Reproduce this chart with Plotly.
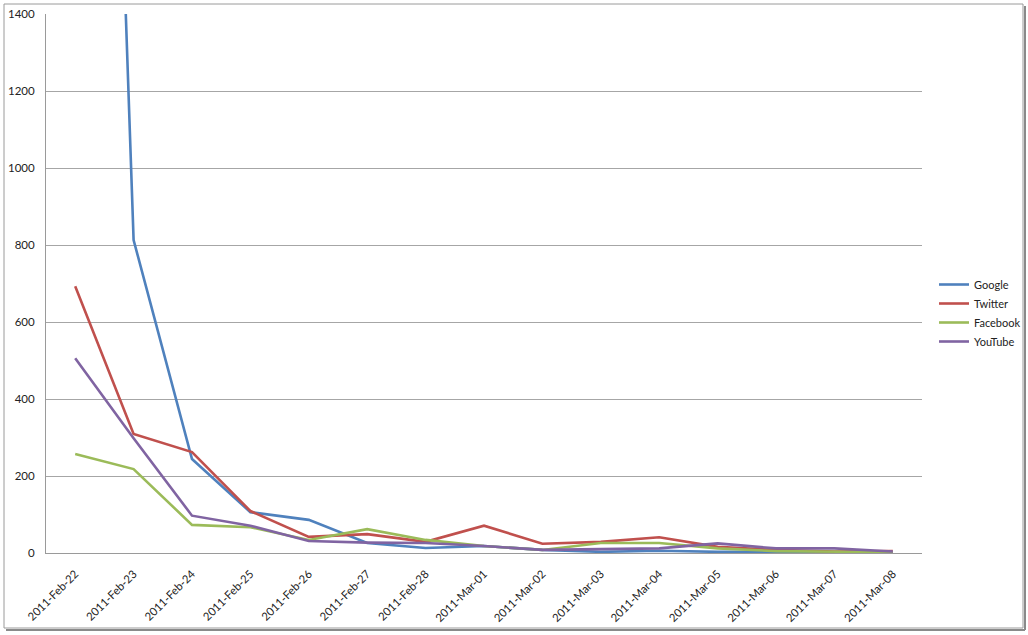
import plotly.graph_objects as go

dates = ["2011-Feb-22", "2011-Feb-23", "2011-Feb-24", "2011-Feb-25", "2011-Feb-26",
         "2011-Feb-27", "2011-Feb-28", "2011-Mar-01", "2011-Mar-02", "2011-Mar-03",
         "2011-Mar-04", "2011-Mar-05", "2011-Mar-06", "2011-Mar-07", "2011-Mar-08"]

google = [5200, 813, 244, 106, 86, 26, 13, 18, 8, 3, 6, 3, 3, 2, 2]
twitter = [693, 309, 262, 109, 42, 49, 29, 71, 24, 29, 41, 16, 8, 4, 5]
facebook = [257, 218, 73, 67, 34, 62, 34, 18, 8, 26, 26, 12, 5, 4, 2]
youtube = [506, 298, 97, 71, 31, 27, 26, 18, 8, 10, 12, 25, 12, 12, 4]

y_ticks = [0, 200, 400, 600, 800, 1000, 1200, 1400]

series = [("Google", google, "#4F81BD"),
          ("Twitter", twitter, "#C0504D"),
          ("Facebook", facebook, "#9BBB59"),
          ("YouTube", youtube, "#8064A2")]

fig = go.Figure()
for name, vals, col in series:
    fig.add_trace(go.Scatter(x=dates, y=vals, name=name, mode="lines",
                             line=dict(color=col, width=2.6)))

W, H = 1028, 635
L, R, T, B = 46, 922, 14, 553

def px(x):
    return (x - L) / (R - L)

def py(y):
    return (B - y) / (B - T)

fig.update_layout(
    width=W, height=H,
    margin=dict(l=L, r=W - R, t=T, b=H - B, autoexpand=False),
    paper_bgcolor="white", plot_bgcolor="white",
    font=dict(family="Lato, Open Sans, sans-serif", size=11, color="#222"),
    showlegend=True,
    legend=dict(x=px(934), y=py(270), xanchor="left", yanchor="top",
                font=dict(size=11, color="#222"), tracegroupgap=0,
                bgcolor="rgba(0,0,0,0)", itemwidth=30),
    xaxis=dict(type="category", tickangle=-45, showgrid=False,
               showline=True, linecolor="#9a9a9a", linewidth=1, automargin=False,
               ticks="", tickfont=dict(size=11.3), ticklabelstandoff=9,
               range=[-0.5, 14.5]),
    yaxis=dict(range=[0, 1400], tickvals=y_ticks, showgrid=True, automargin=False,
               gridcolor="#a6a6a6", gridwidth=1, showline=True,
               linecolor="#9a9a9a", linewidth=1, ticks="", zeroline=False,
               tickfont=dict(size=11.5), ticklabelstandoff=8),
    shapes=[
        dict(type="rect", xref="paper", yref="paper",
             x0=px(4), x1=px(1023), y0=py(4), y1=py(628),
             line=dict(color="#9a9a9a", width=1), layer="below"),
        dict(type="line", xref="paper", yref="paper",
             x0=px(6), x1=px(1025), y0=py(630), y1=py(630),
             line=dict(color="#8a8a8a", width=2)),
        dict(type="line", xref="paper", yref="paper",
             x0=px(1025), x1=px(1025), y0=py(6), y1=py(630),
             line=dict(color="#8a8a8a", width=2)),
    ],
)

fig.write_html("out.html")
